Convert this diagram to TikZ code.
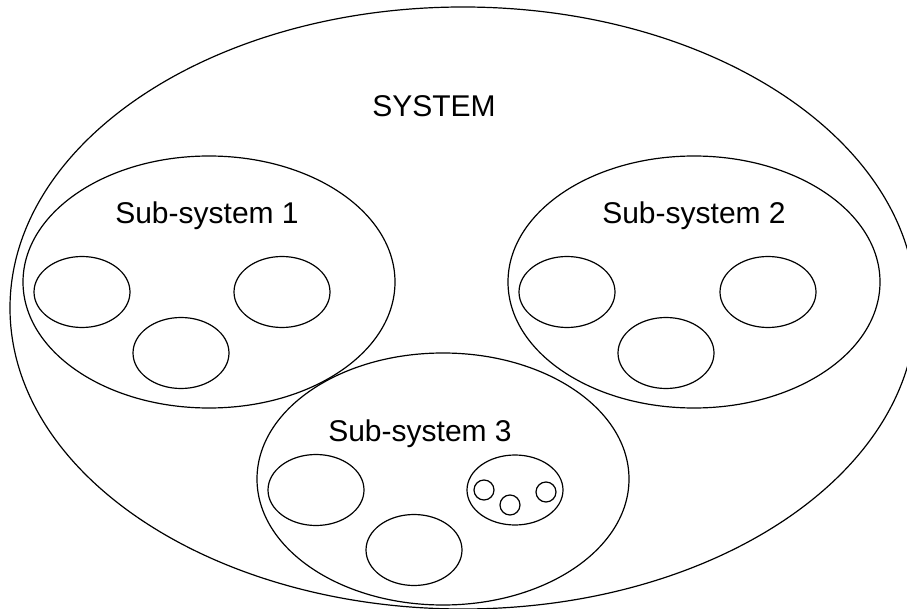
\documentclass[tikz,border=0pt]{standalone}
\usepackage{fontspec}
\setmainfont{Liberation Sans}
\usetikzlibrary{shapes.geometric}

\begin{document}
\begin{tikzpicture}[x=1pt,y=-1pt,
  blob/.style={ellipse,draw,line width=1.2pt,inner sep=0pt},
  part/.style={blob,minimum width=96pt,minimum height=71pt},
  subsys/.style={blob,minimum width=372pt,minimum height=252pt},
  speck/.style={blob,minimum width=20pt,minimum height=20pt},
  caption/.style={anchor=base,font=\fontsize{30}{36}\selectfont}]
\useasboundingbox (0,0) rectangle (907,609);
\node[blob,minimum width=906pt,minimum height=602pt] (system) at (463,308) {};
\node[caption] (systemlabel) at (434,117) {SYSTEM};
% sub-systems
\node[subsys] (sub1) at (209,282) {};
\node[subsys] (sub2) at (694,282) {};
\node[subsys] (sub3) at (443,479) {};
\node[caption] (sub1label) at (207,224) {Sub-system 1};
\node[caption] (sub2label) at (694,224) {Sub-system 2};
\node[caption] (sub3label) at (420,441) {Sub-system 3};
% parts
\foreach \x/\y/\n in {82/292/a,282/292/b,181/353/c}
\node[part] (sub1\n) at (\x,\y) {};
\foreach \x/\y/\n in {567/292/a,768/292/b,666/353/c}
\node[part] (sub2\n) at (\x,\y) {};
\foreach \x/\y/\n in {316/490/a,414/550/b}
\node[part] (sub3\n) at (\x,\y) {};
\node[part,minimum height=70pt] (sub3c) at (515,490) {};
\foreach \x/\y/\n in {484/490/a,510/505/b,546/492/c}
\node[speck] (sub3c\n) at (\x,\y) {};
\end{tikzpicture}
\end{document}
